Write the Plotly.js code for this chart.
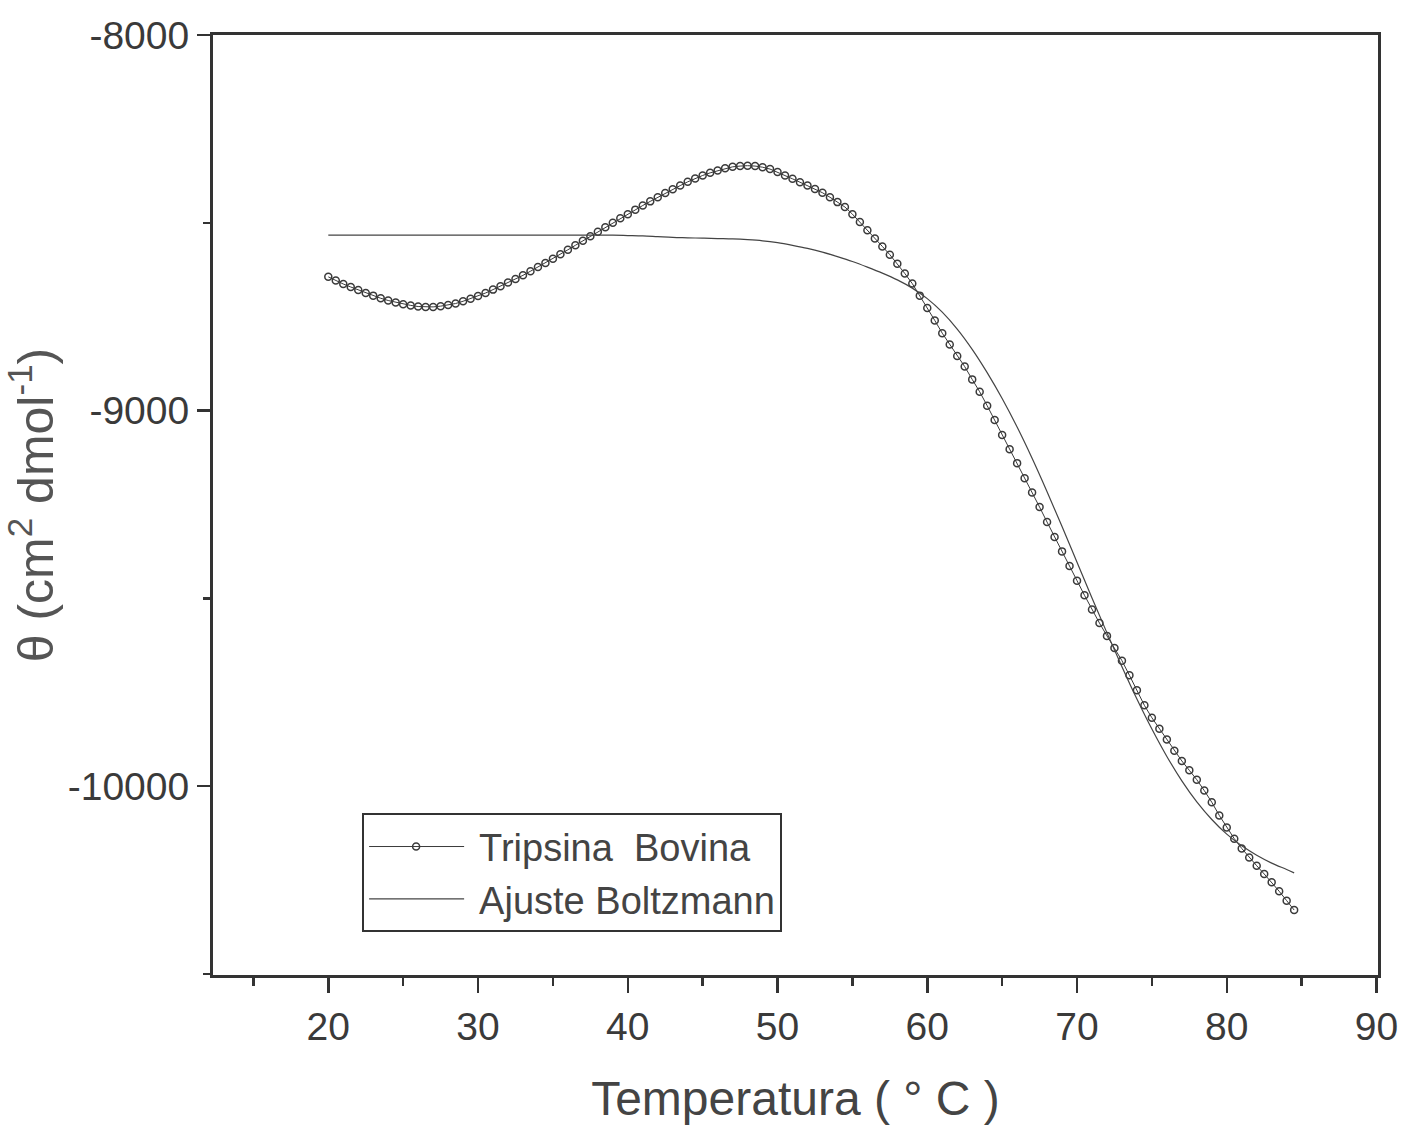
<!DOCTYPE html>
<html>
<head>
<meta charset="utf-8">
<script src="https://cdn.plot.ly/plotly-3.0.1.min.js"></script>
<style>
  html, body { margin: 0; padding: 0; background: #ffffff; }
  #chart { width: 1406px; height: 1135px; }
</style>
</head>
<body>
<div id="chart"></div>
<script>
// Temperatura (°C) de los datos medidos
const tempData = [
  20.0, 20.5, 21.0, 21.5, 22.0, 22.5, 23.0, 23.5, 24.0, 24.5,
  25.0, 25.5, 26.0, 26.5, 27.0, 27.5, 28.0, 28.5, 29.0, 29.5,
  30.0, 30.5, 31.0, 31.5, 32.0, 32.5, 33.0, 33.5, 34.0, 34.5,
  35.0, 35.5, 36.0, 36.5, 37.0, 37.5, 38.0, 38.5, 39.0, 39.5,
  40.0, 40.5, 41.0, 41.5, 42.0, 42.5, 43.0, 43.5, 44.0, 44.5,
  45.0, 45.5, 46.0, 46.5, 47.0, 47.5, 48.0, 48.5, 49.0, 49.5,
  50.0, 50.5, 51.0, 51.5, 52.0, 52.5, 53.0, 53.5, 54.0, 54.5,
  55.0, 55.5, 56.0, 56.5, 57.0, 57.5, 58.0, 58.5, 59.0, 59.5,
  60.0, 60.5, 61.0, 61.5, 62.0, 62.5, 63.0, 63.5, 64.0, 64.5,
  65.0, 65.5, 66.0, 66.5, 67.0, 67.5, 68.0, 68.5, 69.0, 69.5,
  70.0, 70.5, 71.0, 71.5, 72.0, 72.5, 73.0, 73.5, 74.0, 74.5,
  75.0, 75.5, 76.0, 76.5, 77.0, 77.5, 78.0, 78.5, 79.0, 79.5,
  80.0, 80.5, 81.0, 81.5, 82.0, 82.5, 83.0, 83.5, 84.0, 84.5
];
// θ (cm² dmol⁻¹) – Tripsina Bovina
const thetaData = [
  -8644, -8654, -8663, -8671, -8679, -8687, -8694, -8701, -8707, -8712,
  -8717, -8720, -8723, -8724, -8724, -8722, -8719, -8715, -8709, -8702,
  -8695, -8687, -8678, -8669, -8659, -8650, -8640, -8629, -8618, -8607,
  -8596, -8584, -8572, -8560, -8548, -8536, -8524, -8512, -8500, -8488,
  -8477, -8465, -8454, -8443, -8432, -8421, -8411, -8401, -8391, -8382,
  -8374, -8367, -8361, -8355, -8351, -8349, -8348, -8349, -8352, -8357,
  -8365, -8374, -8383, -8392, -8401, -8410, -8420, -8432, -8445, -8458,
  -8477, -8498, -8520, -8542, -8563, -8585, -8609, -8635, -8662, -8694,
  -8727, -8760, -8794, -8824, -8855, -8883, -8917, -8950, -8987, -9025,
  -9065, -9103, -9140, -9180, -9218, -9257, -9297, -9337, -9375, -9414,
  -9453, -9492, -9530, -9566, -9600, -9632, -9666, -9705, -9745, -9785,
  -9818, -9847, -9876, -9906, -9933, -9958, -9983, -10012, -10043, -10078,
  -10110, -10140, -10166, -10190, -10212, -10234, -10256, -10280, -10305, -10330
];
// Ajuste Boltzmann
const tempFit = [
  20, 21, 22, 23, 24, 25, 26, 27, 28, 29,
  30, 31, 32, 33, 34, 35, 36, 37, 38, 39,
  40, 41, 42, 43, 44, 45, 46, 47, 48, 49,
  50, 51, 52, 53, 54, 55, 56, 57, 58, 59,
  60, 61, 62, 63, 64, 65, 66, 67, 68, 69,
  70, 71, 72, 73, 74, 75, 76, 77, 78, 79,
  80, 81, 82, 83, 84, 84.5
];
const thetaFit = [
  -8533, -8533, -8533, -8533, -8533, -8533, -8533, -8533, -8533, -8533,
  -8533, -8533, -8533, -8533, -8533, -8533, -8533, -8533, -8533, -8533,
  -8534, -8535, -8537, -8539, -8540, -8541, -8542, -8543, -8545, -8548,
  -8553, -8560, -8568, -8578, -8590, -8603, -8618, -8634, -8652, -8674,
  -8702, -8738, -8783, -8837, -8899, -8968, -9044, -9127, -9216, -9309,
  -9404, -9499, -9592, -9682, -9768, -9848, -9921, -9986, -10042, -10089,
  -10128, -10159, -10184, -10205, -10222, -10231
];
const xTickVals = [20, 30, 40, 50, 60, 70, 80, 90];
const yTickVals = [-8000, -9000, -10000];
const yTickText = ['-8000', '-9000', '-10000'];
const seriesNames = ['Tripsina  Bovina', 'Ajuste Boltzmann'];

const ink = '#3a3a3a';
const fontFam = '"Liberation Sans", Arial, sans-serif';

const traces = [
  {
    x: tempData, y: thetaData, name: seriesNames[0],
    type: 'scatter', mode: 'lines+markers',
    line: { color: ink, width: 1 },
    marker: { symbol: 'circle-open', size: 7, color: ink, line: { width: 1.5, color: ink } }
  },
  {
    x: tempFit, y: thetaFit, name: seriesNames[1],
    type: 'scatter', mode: 'lines',
    line: { color: '#444444', width: 1.2, shape: 'spline', smoothing: 1 }
  }
];

const layout = {
  width: 1406, height: 1135,
  paper_bgcolor: '#ffffff', plot_bgcolor: '#ffffff',
  margin: { l: 213, r: 28, t: 35, b: 160, pad: 0 },
  font: { family: fontFam, color: ink },
  showlegend: true,
  legend: {
    x: 0.128, y: 0.172, xanchor: 'left', yanchor: 'top',
    bgcolor: '#ffffff', bordercolor: '#333333', borderwidth: 2,
    font: { size: 38, color: '#444444', family: fontFam },
    itemwidth: 105, tracegroupgap: 0
  },
  xaxis: {
    range: [12.3, 90.1],
    tickvals: xTickVals,
    ticks: 'outside', ticklen: 15, tickwidth: 2.5, tickcolor: '#333333',
    minor: { dtick: 5, tick0: 0, ticks: 'outside', ticklen: 8, tickwidth: 2.5, tickcolor: '#333333' },
    showline: true, linecolor: '#333333', linewidth: 3, mirror: true,
    showgrid: false, zeroline: false,
    tickfont: { size: 39, color: ink, family: fontFam },
    title: { text: 'Temperatura ( ° C )', font: { size: 48, color: '#444444', family: fontFam }, standoff: 35 },
    automargin: false
  },
  yaxis: {
    range: [-10503, -8000],
    tickvals: yTickVals,
    ticktext: yTickText,
    ticks: 'outside', ticklen: 13, tickwidth: 2.5, tickcolor: '#333333',
    minor: { dtick: 500, tick0: 0, ticks: 'outside', ticklen: 7, tickwidth: 2.5, tickcolor: '#333333' },
    showline: true, linecolor: '#333333', linewidth: 3, mirror: true,
    showgrid: false, zeroline: false,
    tickfont: { size: 39, color: ink, family: fontFam },
    title: { text: 'θ (cm<sup>2</sup> dmol<sup>-1</sup>)', font: { size: 50, color: '#555555', family: fontFam }, standoff: 0 },
    automargin: false
  }
};

Plotly.newPlot('chart', traces, layout, { displayModeBar: false, staticPlot: true }).then(function (gd) {
  gd.querySelectorAll('.legendlines path').forEach(function (p) { p.setAttribute('d', 'M5,0h95'); });
  gd.querySelectorAll('.legendpoints path').forEach(function (p) { p.setAttribute('transform', 'translate(52,0)'); });
});
</script>
</body>
</html>
